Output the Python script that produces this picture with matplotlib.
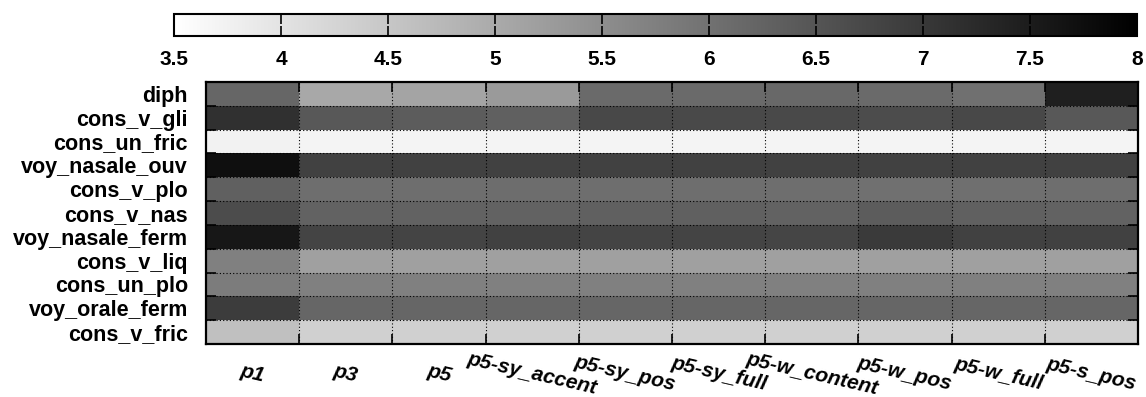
import numpy as np
import matplotlib
matplotlib.use("Agg")
import matplotlib.pyplot as plt

rows = ["diph", "cons_v_gli", "cons_un_fric", "voy_nasale_ouv", "cons_v_plo",
        "cons_v_nas", "voy_nasale_ferm", "cons_v_liq", "cons_un_plo",
        "voy_orale_ferm", "cons_v_fric"]
cols = ["p1", "p3", "p5", "p5-sy_accent", "p5-sy_pos", "p5-sy_full",
        "p5-w_content", "p5-w_pos", "p5-w_full", "p5-s_pos"]

diph = [6.20, 5.03, 5.10, 5.28, 6.13, 6.13, 6.16, 6.13, 6.02, 7.44]
cons_v_gli = [7.15, 6.45, 6.38, 6.31, 6.73, 6.70, 6.70, 6.66, 6.73, 6.45]
cons_un_fric = [3.74, 3.71, 3.71, 3.71, 3.71, 3.71, 3.71, 3.71, 3.71, 3.71]
voy_nasale_ouv = [7.72, 6.84, 6.84, 6.84, 6.84, 6.84, 6.84, 6.84, 6.84, 6.84]
cons_v_plo = [6.31, 6.06, 6.06, 6.08, 6.06, 6.06, 6.06, 6.02, 6.04, 6.06]
cons_v_nas = [6.66, 6.27, 6.27, 6.27, 6.30, 6.30, 6.27, 6.38, 6.30, 6.27]
voy_nasale_ferm = [7.58, 6.80, 6.80, 6.84, 6.80, 6.80, 6.78, 6.98, 6.84, 6.84]
cons_v_liq = [5.74, 5.18, 5.18, 5.18, 5.18, 5.18, 5.18, 5.18, 5.18, 5.18]
cons_un_plo = [5.81, 5.74, 5.74, 5.74, 5.74, 5.74, 5.74, 5.74, 5.74, 5.74]
voy_orale_ferm = [6.94, 6.20, 6.20, 6.20, 6.20, 6.20, 6.20, 6.20, 6.20, 6.20]
cons_v_fric = [4.61, 4.33, 4.33, 4.33, 4.33, 4.33, 4.33, 4.33, 4.33, 4.33]

cb_ticks = [3.5, 4, 4.5, 5, 5.5, 6, 6.5, 7, 7.5, 8]
cb_labels = ["3.5", "4", "4.5", "5", "5.5", "6", "6.5", "7", "7.5", "8"]
vmin, vmax = 3.5, 8.0

data = np.array([diph, cons_v_gli, cons_un_fric, voy_nasale_ouv, cons_v_plo,
                 cons_v_nas, voy_nasale_ferm, cons_v_liq, cons_un_plo,
                 voy_orale_ferm, cons_v_fric])

plt.rcParams['font.family'] = ['Liberation Sans', 'DejaVu Sans']

W, H = 1146, 397
fig = plt.figure(figsize=(W / 100, H / 100), dpi=100)

ax = fig.add_axes([206 / W, 1 - 344 / H, 932 / W, 262 / H])
mesh = ax.pcolormesh(np.arange(len(cols) + 1), np.arange(len(rows) + 1), data,
                     cmap="gray_r", vmin=vmin, vmax=vmax)
ax.set_xlim(0, len(cols))
ax.set_ylim(len(rows), 0)

# boundaries: major ticks + dotted grid
ax.set_xticks(np.arange(1, len(cols)))
ax.set_yticks(np.arange(1, len(rows)))
ax.set_xticklabels([])
ax.set_yticklabels([])
ax.tick_params(which="major", direction="in", length=7, width=1.2,
               top=True, bottom=True, left=True, right=True, color="black")
ax.grid(True, which="major", linestyle=(0, (1, 2)), color="black", linewidth=0.8)

# labels on minor ticks at centres
ax.set_xticks(np.arange(len(cols)) + 0.5, minor=True)
ax.set_yticks(np.arange(len(rows)) + 0.5, minor=True)
ax.set_yticklabels(rows, minor=True, fontsize=15.5, fontweight="bold")
ax.set_xticklabels(cols, minor=True, fontsize=15, fontweight="bold",
                   fontstyle="italic", rotation=-13, rotation_mode="anchor",
                   ha="center", va="center")
ax.tick_params(which="minor", length=0)
ax.tick_params(axis="x", which="minor", pad=21.5)
ax.tick_params(axis="y", which="minor", pad=13)
for s in ax.spines.values():
    s.set_linewidth(1.6)

# colorbar
cax = fig.add_axes([174 / W, 1 - 36 / H, 963 / W, 22 / H])
cb = fig.colorbar(mesh, cax=cax, orientation="horizontal")
cb.set_ticks(cb_ticks)
cb.set_ticklabels(cb_labels)
cax.minorticks_off()
cax.tick_params(axis="x", which="major", direction="in", length=7, width=1.2,
                top=True, bottom=True, labelbottom=True, labeltop=False,
                labelsize=15, pad=10)
for lab in cax.get_xticklabels():
    lab.set_fontweight("bold")
cb.outline.set_linewidth(1.5)

fig.savefig("out.png", dpi=100)
